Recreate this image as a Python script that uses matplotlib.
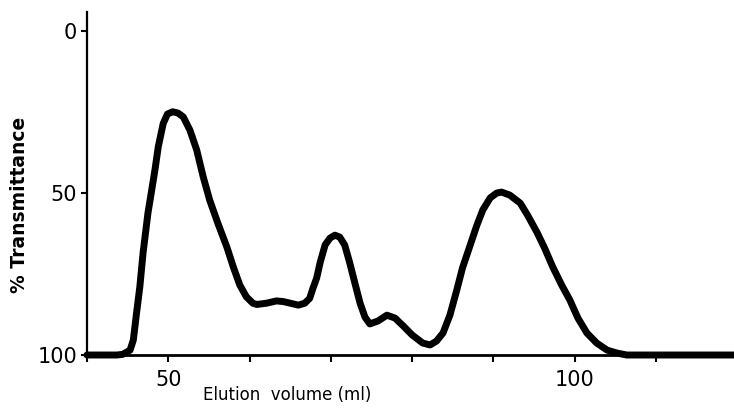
import matplotlib.pyplot as plt

# elution profile
volume = [40.0, 42.5, 43.65, 44.4, 45.3, 45.7, 46.1, 46.5, 46.9, 47.5, 47.96, 48.36,
          48.77, 49.38, 49.9, 50.54, 51.2, 51.85, 52.67, 53.5, 54.3, 55.1, 56.1, 57.2,
          58.0, 58.8, 59.6, 60.4, 60.9, 62.1, 63.3, 64.15, 65.0, 66.0, 66.8, 67.4,
          67.8, 68.25, 68.7, 69.3, 69.9, 70.5, 71.1, 71.7, 72.3, 72.96, 73.6, 74.2,
          74.8, 75.8, 76.9, 77.9, 78.9, 80.0, 81.3, 82.2, 83.0, 83.8, 84.65, 85.5,
          86.2, 87.1, 87.97, 88.7, 89.6, 90.4, 91.0, 92.0, 93.3, 94.2, 95.4, 96.3,
          97.3, 98.4, 99.4, 100.4, 101.5, 102.7, 104.0, 105.2, 106.4, 108.6, 119.6]
transmittance = [100, 100, 100, 99.8, 98.5, 95.4, 87, 79, 68.5, 56.2, 49.1, 42.9,
                 35.7, 28.5, 25.6, 24.9, 25.3, 26.5, 30.6, 36.7, 45, 52.2, 59.3, 66.6,
                 72.8, 78.4, 82, 84, 84.4, 84, 83.3, 83.5, 84, 84.6, 84, 82.5,
                 79.4, 76.3, 71.3, 66, 63.9, 63, 63.6, 66, 71.3, 77.8, 84, 88.3,
                 90.4, 89.5, 87.7, 88.6, 91, 93.8, 96.3, 96.9, 95.7, 93.2, 87.7, 79.9,
                 73.1, 66.4, 59.9, 55.2, 51.5, 50, 49.7, 50.6, 53.1, 56.8, 62.3, 67,
                 72.8, 78.4, 83, 88.6, 93.2, 96.3, 98.5, 99.4, 100, 100, 100]

x_ticks = [40, 50, 60, 70, 80, 90, 100, 110]
x_labels = ['', '50', '', '', '', '', '100', '']
y_ticks = [0, 50, 100]
y_labels = ['0', '50', '100']

fig = plt.figure(figsize=(7.34, 4.09), dpi=100)
ax = fig.add_axes([0.1185, 0.132, 0.8815, 0.8386])

ax.plot(volume, transmittance, color='black', linewidth=5,
        solid_joinstyle='round', solid_capstyle='round', clip_on=False)

ax.set_xlim(40, 119.6)
ax.set_ylim(100, -5.9)

ax.spines['top'].set_visible(False)
ax.spines['right'].set_visible(False)
ax.spines['left'].set_linewidth(1.6)
ax.spines['bottom'].set_linewidth(2.0)

ax.set_xticks(x_ticks)
ax.set_xticklabels(x_labels, fontsize=15)
ax.set_yticks(y_ticks)
ax.set_yticklabels(y_labels, fontsize=15)
ax.tick_params(axis='x', direction='out', length=5, width=1.5, pad=6)
ax.tick_params(axis='y', direction='out', length=4, width=1.5, pad=3)

ax.set_xlabel('Elution  volume (ml)', fontsize=12)
ax.xaxis.set_label_coords(0.31, -0.09)
ax.set_ylabel('% Transmittance', fontsize=13.5, fontweight='bold')
ax.yaxis.set_label_coords(-0.104, 0.437)
ax.yaxis.label.set_va('center')

fig.savefig('out.png', dpi=100)
